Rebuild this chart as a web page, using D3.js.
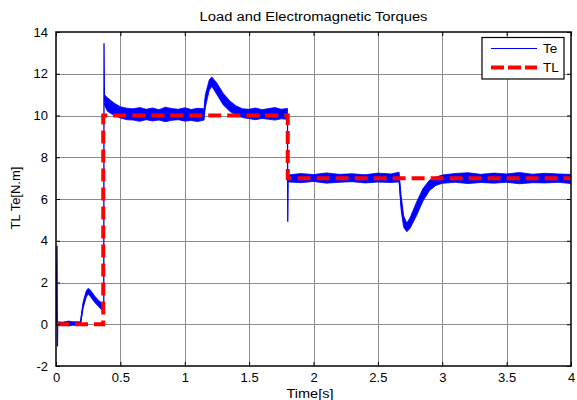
<!DOCTYPE html>
<html><head><meta charset="utf-8">
<script src="https://cdn.jsdelivr.net/npm/d3@7"></script>
<style>
html,body{margin:0;padding:0;background:#fff;}
svg{display:block;}
text{font-family:"Liberation Sans",Arial,sans-serif;fill:#000;}
</style></head>
<body><div id="chart"></div>
<script>
// ---- data ----
const xTicks = [0, 0.5, 1, 1.5, 2, 2.5, 3, 3.5, 4];
const yTicks = [-2, 0, 2, 4, 6, 8, 10, 12, 14];
const xTickLabels = ["0", "0.5", "1", "1.5", "2", "2.5", "3", "3.5", "4"];
const yTickLabels = ["-2", "0", "2", "4", "6", "8", "10", "12", "14"];

// Load torque TL (step profile)
const tlTime  = [0, 0.367, 0.367, 1.80, 1.80, 4.0];
const tlValue = [0, 0, 10, 10, 7, 7];

// Electromagnetic torque Te: centre trace
const teTime  = [0, 0.008, 0.011, 0.013, 0.10, 0.19, 0.21, 0.235, 0.25, 0.27, 0.30, 0.33, 0.36, 0.371,
                 0.373, 0.376, 0.40, 0.45, 0.50, 0.55, 0.60, 1.15, 1.16, 1.19, 1.21, 1.25, 1.30, 1.35,
                 1.40, 1.45, 1.50, 1.798, 1.800, 1.803, 2.20, 2.665, 2.68, 2.70, 2.725, 2.75, 2.80,
                 2.85, 2.90, 2.95, 3.00, 3.50, 4.00];
const teValue = [0.05, 3.76, -1.07, 0.05, 0.05, 0.05, 0.9, 1.45, 1.6, 1.5, 1.2, 1.0, 0.85, 0.8,
                 13.46, 10.9, 10.55, 10.35, 10.2, 10.1, 10.05, 10.05, 10.8, 11.45, 11.62, 11.3, 10.8, 10.45,
                 10.2, 10.1, 10.05, 10.05, 4.91, 6.97, 6.97, 6.97, 5.8, 4.9, 4.62, 4.85, 5.5,
                 6.2, 6.65, 6.85, 6.95, 7.0, 7.0];

// Electromagnetic torque Te: ripple envelope (null separates segments)
const bandTime = [0.013, 0.05, 0.10, 0.13, 0.19, 0.21, 0.235, 0.25, 0.27, 0.30, 0.33, 0.36, 0.371, null,
                  0.376, 0.40, 0.45, 0.50, 0.55,
                  0.60, 0.65, 0.70, 0.75, 0.80, 0.85, 0.90, 0.95, 1.00, 1.05, 1.10, 1.15,
                  1.16, 1.19, 1.21, 1.25, 1.30, 1.35, 1.40, 1.45,
                  1.50, 1.55, 1.60, 1.65, 1.70, 1.75, 1.798, null,
                  1.803, 1.90, 2.00, 2.10, 2.20, 2.30, 2.40, 2.50, 2.60, 2.665,
                  2.68, 2.70, 2.725, 2.75, 2.80, 2.85, 2.90, 2.95,
                  3.00, 3.10, 3.20, 3.30, 3.40, 3.50, 3.60, 3.70, 3.80, 3.90, 4.00];
const bandLow  = [-0.05, -0.03, -0.08, -0.05, -0.05, 0.75, 1.3, 1.45, 1.3, 1.05, 0.85, 0.65, 0.6, null,
                  10.5, 10.2, 10.0, 9.88, 9.8,
                  9.78, 9.72, 9.8, 9.74, 9.78, 9.7, 9.77, 9.8, 9.73, 9.76, 9.71, 9.78,
                  10.4, 11.2, 11.4, 11.0, 10.5, 10.2, 10.0, 9.9,
                  9.85, 9.8, 9.86, 9.82, 9.78, 9.84, 9.82, null,
                  6.82, 6.78, 6.84, 6.76, 6.8, 6.83, 6.77, 6.81, 6.79, 6.82,
                  5.5, 4.65, 4.43, 4.6, 5.2, 5.9, 6.4, 6.65,
                  6.75, 6.8, 6.74, 6.79, 6.76, 6.8, 6.73, 6.78, 6.77, 6.8, 6.74];
const bandHigh = [0.12, 0.1, 0.15, 0.12, 0.12, 1.05, 1.6, 1.72, 1.62, 1.35, 1.15, 1.0, 0.95, null,
                  11.0, 10.85, 10.6, 10.42, 10.35,
                  10.32, 10.38, 10.3, 10.36, 10.28, 10.4, 10.33, 10.3, 10.37, 10.29, 10.35, 10.32,
                  11.0, 11.7, 11.85, 11.55, 11.05, 10.7, 10.45, 10.32,
                  10.3, 10.36, 10.28, 10.33, 10.38, 10.3, 10.34, null,
                  7.15, 7.22, 7.17, 7.25, 7.18, 7.21, 7.16, 7.24, 7.2, 7.28,
                  6.2, 5.2, 4.85, 5.1, 5.85, 6.5, 6.9, 7.05,
                  7.15, 7.22, 7.26, 7.18, 7.24, 7.2, 7.27, 7.19, 7.23, 7.2, 7.18];

const legendLabels = ["Te", "TL"];
const titleText = "Load and Electromagnetic Torques";
const xLabelText = "Time[s]";
const yLabelText = "TL Te[N.m]";

// ---- layout ----
const W = 577, H = 400;
const L = 56, R = 571, T = 32, B = 366;

const svg = d3.select("#chart").append("svg").attr("width", W).attr("height", H);

const x = d3.scaleLinear().domain([0, 4]).range([L, R]);
const y = d3.scaleLinear().domain([-2, 14]).range([B, T]);

// grid
const grid = svg.append("g").attr("stroke", "#8c8c8c").attr("stroke-width", 1);
grid.selectAll(".gx").data(xTicks.slice(1, -1)).join("line")
  .attr("x1", d => Math.round(x(d)) + 0.5).attr("x2", d => Math.round(x(d)) + 0.5)
  .attr("y1", T).attr("y2", B);
grid.selectAll(".gy").data(yTicks.slice(1, -1)).join("line")
  .attr("y1", d => Math.round(y(d)) + 0.5).attr("y2", d => Math.round(y(d)) + 0.5)
  .attr("x1", L).attr("x2", R);

const clip = svg.append("clipPath").attr("id", "clip").append("rect")
  .attr("x", L).attr("y", T).attr("width", R - L).attr("height", B - T);
const plot = svg.append("g").attr("clip-path", "url(#clip)");

// Te ripple band
const bandData = bandTime.map((t, i) => ({t, lo: bandLow[i], hi: bandHigh[i]}));
plot.append("path").datum(bandData)
  .attr("fill", "#0000ff").attr("stroke", "#0000ff").attr("stroke-width", 0.8)
  .attr("d", d3.area().defined(d => d.t !== null)
    .x(d => x(d.t)).y0(d => y(d.lo)).y1(d => y(d.hi)));

// Te centre trace
const teData = teTime.map((t, i) => ({t, v: teValue[i]}));
plot.append("path").datum(teData)
  .attr("fill", "none").attr("stroke", "#0000ff").attr("stroke-width", 1.3)
  .attr("d", d3.line().x(d => x(d.t)).y(d => y(d.v)));

// TL dashed
const tlData = tlTime.map((t, i) => ({t, v: tlValue[i]}));
plot.append("path").datum(tlData)
  .attr("fill", "none").attr("stroke", "#ff0000").attr("stroke-width", 4)
  .attr("stroke-dasharray", "13,6")
  .attr("d", d3.line().x(d => x(d.t)).y(d => y(d.v)));

// axes with inward ticks
const tickLen = 4;
const axB = svg.append("g").attr("transform", `translate(0,${B})`)
  .call(d3.axisBottom(x).tickValues(xTicks).tickSizeInner(-tickLen).tickSizeOuter(0)
    .tickFormat((d, i) => xTickLabels[i]).tickPadding(7));
const axT = svg.append("g").attr("transform", `translate(0,${T})`)
  .call(d3.axisTop(x).tickValues(xTicks).tickSizeInner(-tickLen).tickSizeOuter(0).tickFormat(""));
const axL = svg.append("g").attr("transform", `translate(${L},0)`)
  .call(d3.axisLeft(y).tickValues(yTicks).tickSizeInner(-tickLen).tickSizeOuter(0)
    .tickFormat((d, i) => yTickLabels[i]).tickPadding(8));
const axR = svg.append("g").attr("transform", `translate(${R},0)`)
  .call(d3.axisRight(y).tickValues(yTicks).tickSizeInner(-tickLen).tickSizeOuter(0).tickFormat(""));
[axB, axT, axL, axR].forEach(a => {
  a.select(".domain").remove();
  a.selectAll(".tick line").attr("stroke", "#000");
  a.selectAll("text").attr("font-size", 13).attr("fill", "#000")
    .style("font-family", '"Liberation Sans", Arial, sans-serif');
});
axB.selectAll("text").attr("dy", "0.71em");

// frame
svg.append("rect").attr("x", L).attr("y", T).attr("width", R - L).attr("height", B - T)
  .attr("fill", "none").attr("stroke", "#000").attr("stroke-width", 1.5);

// title & labels
svg.append("text").attr("x", (L + R) / 2).attr("y", 21).attr("text-anchor", "middle")
  .attr("font-size", 12.5).attr("textLength", 228).attr("lengthAdjust", "spacingAndGlyphs")
  .text(titleText);
svg.append("text").attr("x", 310).attr("y", 398).attr("text-anchor", "middle")
  .attr("font-size", 12.5).attr("textLength", 47).attr("lengthAdjust", "spacingAndGlyphs")
  .text(xLabelText);
svg.append("text").attr("transform", "translate(20,198) rotate(-90)").attr("text-anchor", "middle")
  .attr("font-size", 13).text(yLabelText);

// legend
const lg = svg.append("g");
lg.append("rect").attr("x", 482).attr("y", 37.5).attr("width", 82).attr("height", 41.5)
  .attr("fill", "#fff").attr("stroke", "#000").attr("stroke-width", 1.2);
lg.append("line").attr("x1", 491).attr("x2", 537).attr("y1", 48.5).attr("y2", 48.5)
  .attr("stroke", "#0000ff").attr("stroke-width", 1);
lg.append("line").attr("x1", 491).attr("x2", 537).attr("y1", 67.5).attr("y2", 67.5)
  .attr("stroke", "#ff0000").attr("stroke-width", 4).attr("stroke-dasharray", "13,4");
lg.selectAll(".lt").data(legendLabels).join("text")
  .attr("x", 543).attr("y", (d, i) => 53 + i * 19)
  .attr("font-size", 13.5).text(d => d);
</script></body></html>
